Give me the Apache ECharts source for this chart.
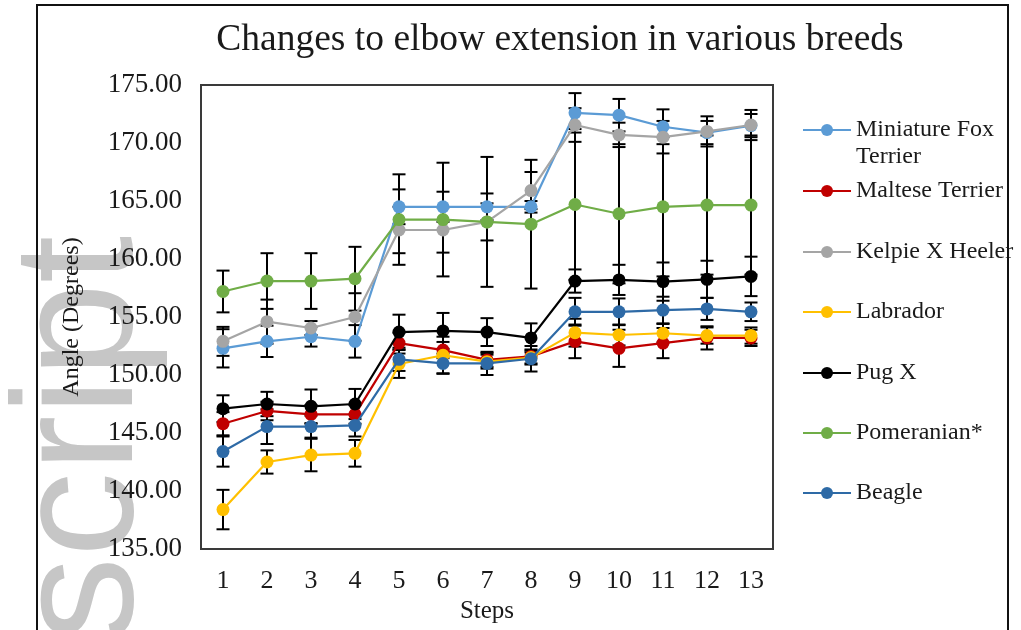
<!DOCTYPE html>
<html><head><meta charset="utf-8">
<script src="https://cdn.jsdelivr.net/npm/echarts@6/dist/echarts.min.js"></script>
<style>html,body{margin:0;padding:0;background:#fff}#c{width:1021px;height:630px}</style>
</head><body><div id="c"></div><script>
const steps = ['1','2','3','4','5','6','7','8','9','10','11','12','13'];
const breeds = ['Miniature Fox Terrier','Maltese Terrier','Kelpie X Heeler','Labrador','Pug X','Pomeranian*','Beagle'];
const colors = ['#5B9BD5','#C00000','#A5A5A5','#FFC000','#000000','#70AD47','#2E6AA6'];

const mft        = [152.3, 152.9, 153.3, 152.9, 164.5, 164.5, 164.5, 164.5, 172.6, 172.4, 171.4, 170.9, 171.5];
const mftErr     = [1.65, 1.35, 0.85, 1.4, 1.5, 1.3, 1.15, 0.5, 1.7, 1.4, 1.5, 1.0, 1.0];
const maltese    = [145.8, 146.9, 146.6, 146.6, 152.75, 152.15, 151.3, 151.6, 152.9, 152.3, 152.75, 153.2, 153.2];
const malteseErr = [1.0, 0.8, 0.8, 0.8, 0.9, 0.7, 0.6, 0.6, 1.45, 1.6, 1.3, 1.0, 0.7];
const kelpie     = [152.9, 154.6, 154.05, 155.0, 162.5, 162.5, 163.2, 165.9, 171.55, 170.7, 170.5, 171.0, 171.55];
const kelpieErr  = [1.25, 1.9, 0.6, 2.05, 2.0, 1.95, 1.6, 1.6, 1.45, 1.05, 1.4, 1.3, 1.3];
const labrador   = [138.4, 142.5, 143.1, 143.25, 150.95, 151.7, 151.15, 151.5, 153.65, 153.45, 153.6, 153.4, 153.4];
const labradorErr= [1.7, 1.0, 1.4, 1.15, 1.2, 1.6, 0.6, 0.6, 1.2, 0.9, 0.8, 0.7, 0.7];
const pug        = [147.1, 147.5, 147.3, 147.5, 153.7, 153.8, 153.7, 153.2, 158.1, 158.2, 158.05, 158.25, 158.5];
const pugErr     = [1.15, 1.05, 1.45, 1.3, 1.5, 1.55, 1.2, 1.25, 1.0, 1.3, 1.65, 1.6, 1.7];
const pom        = [157.2, 158.1, 158.1, 158.3, 163.4, 163.4, 163.2, 163.0, 164.7, 163.9, 164.5, 164.65, 164.65];
const pomErr     = [1.8, 2.4, 2.4, 2.75, 3.9, 4.9, 5.6, 5.55, 6.5, 6.0, 6.0, 6.0, 6.0];
const beagle     = [143.4, 145.55, 145.55, 145.65, 151.35, 151.0, 151.0, 151.4, 155.45, 155.45, 155.6, 155.7, 155.45];
const beagleErr  = [1.3, 1.5, 0.95, 0.95, 1.0, 0.85, 1.0, 1.1, 1.2, 1.15, 1.15, 0.95, 0.8];

const means = [mft, maltese, kelpie, labrador, pug, pom, beagle];
const errs  = [mftErr, malteseErr, kelpieErr, labradorErr, pugErr, pomErr, beagleErr];

const serif = "'Liberation Serif','Times New Roman',serif";
const txt = '#1a1a1a';

const errData = [];
means.forEach((m, s) => m.forEach((v, i) => errData.push([i, v - errs[s][i], v + errs[s][i]])));

const lineSeries = breeds.map((b, s) => ({
  name: b, type: 'line', data: means[s], symbol: 'circle', symbolSize: 13,
  itemStyle: {color: colors[s]}, lineStyle: {color: colors[s], width: 2.2}, z: 3 + s, animation: false
}));

const legendY = [130, 191, 252, 312, 373, 433, 493];
const legends = breeds.map((b, i) => {
  const l = {data: [b], orient: 'vertical', left: 797, top: legendY[i] - 17, itemWidth: 48, itemHeight: 15,
    selectedMode: false, textStyle: {fontSize: 24, fontFamily: serif, color: txt, lineHeight: 24}};
  if (i === 0) {
    l.formatter = () => '\nMiniature Fox\nTerrier';
    l.textStyle = {fontSize: 24, fontFamily: serif, color: txt, lineHeight: 27};
    l.top = legendY[i] - 45.5;
  }
  return l;
});

const chart = echarts.init(document.getElementById('c'));
chart.setOption({
  animation: false,
  backgroundColor: '#fff',
  title: {text: 'Changes to elbow extension in various breeds', left: 555, top: 16, textAlign: 'center',
    textStyle: {fontFamily: serif, fontSize: 37.5, fontWeight: 'normal', color: txt}},
  legend: legends,
  grid: {left: 201, right: 248, top: 85, bottom: 81, show: true, borderColor: '#3a3a3a', borderWidth: 2, backgroundColor: 'transparent'},
  xAxis: {type: 'category', data: steps, boundaryGap: true,
    name: 'Steps', nameLocation: 'middle', nameGap: 47,
    nameTextStyle: {fontFamily: serif, fontSize: 25, color: txt},
    axisLine: {show: false}, axisTick: {show: false}, splitLine: {show: false},
    axisLabel: {fontFamily: serif, fontSize: 26, color: txt, margin: 19}},
  yAxis: {type: 'value', min: 135, max: 175, interval: 5,
    name: 'Angle (Degrees)', nameLocation: 'middle', nameGap: 117,
    nameTextStyle: {fontFamily: serif, fontSize: 24, color: txt},
    axisLine: {show: false}, axisTick: {show: false}, splitLine: {show: false},
    axisLabel: {fontFamily: serif, fontSize: 27, color: txt, margin: 19, formatter: v => v.toFixed(2)}},
  graphic: [
    {type: 'text', z: -10, x: 170, y: 642, rotation: Math.PI / 2,
      style: {text: 'script', font: "170px 'Liberation Sans', Arial, sans-serif", fill: '#c6c6c6', textAlign: 'left', textVerticalAlign: 'bottom'}},
    {type: 'rect', z: 100, shape: {x: 37, y: 5, width: 971, height: 640}, style: {fill: null, stroke: '#111', lineWidth: 2}}
  ],
  series: [
    {type: 'custom', name: 'errorbars', data: errData, z: 2, animation: false,
      renderItem: (params, api) => {
        const t = api.coord([api.value(0), api.value(2)]);
        const b = api.coord([api.value(0), api.value(1)]);
        const hw = 6.5, st = {stroke: '#000', lineWidth: 2};
        return {type: 'group', children: [
          {type: 'line', shape: {x1: t[0], y1: t[1], x2: b[0], y2: b[1]}, style: st},
          {type: 'line', shape: {x1: t[0] - hw, y1: t[1], x2: t[0] + hw, y2: t[1]}, style: st},
          {type: 'line', shape: {x1: b[0] - hw, y1: b[1], x2: b[0] + hw, y2: b[1]}, style: st}
        ]};
      }}
  ].concat(lineSeries)
});
</script></body></html>
